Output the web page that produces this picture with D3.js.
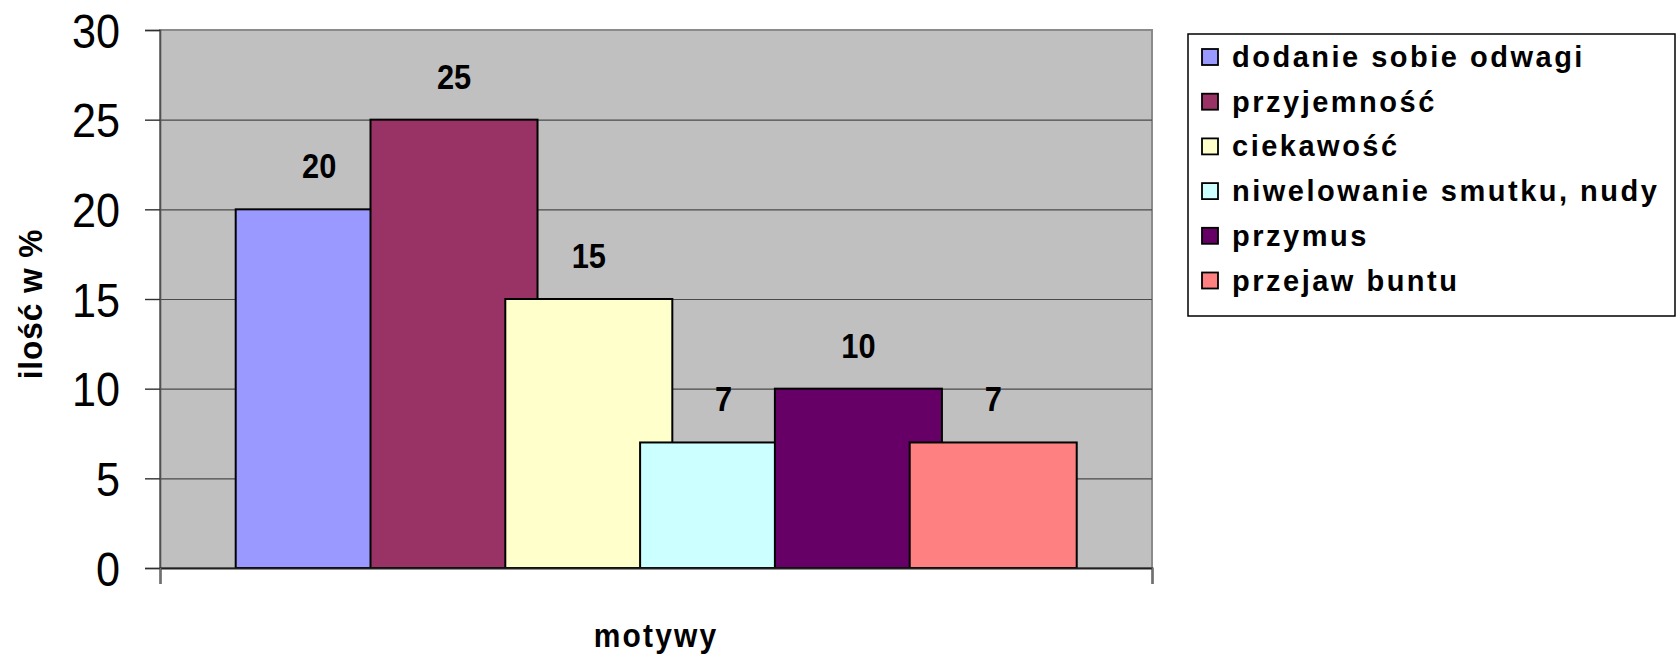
<!DOCTYPE html>
<html>
<head>
<meta charset="utf-8">
<script src="https://cdn.jsdelivr.net/npm/d3@7"></script>
<style>
  html, body { margin: 0; padding: 0; background: #fff; }
  svg { display: block; }
  text { font-family: "Liberation Sans", Arial, sans-serif; fill: #000; }
</style>
</head>
<body>
<div id="chart"></div>
<script>
// ---- data ----
const categories = ["dodanie sobie odwagi", "przyjemność", "ciekawość", "niwelowanie smutku, nudy", "przymus", "przejaw buntu"];
const values = [20, 25, 15, 7, 10, 7];
const colors = ["#9999FF", "#993366", "#FFFFCC", "#CCFFFF", "#660066", "#FF8080"];
const yTicks = [0, 5, 10, 15, 20, 25, 30];
const yDomain = [0, 30];
const xTitle = "motywy";
const yTitle = "ilość w %";

// ---- layout ----
const W = 1677, H = 658;
const plot = { left: 160, right: 1152, top: 30, bottom: 568 };
const groupStart = 235.7, step = 134.8, widthFactor = 1.239;

const svg = d3.select("#chart").append("svg").attr("width", W).attr("height", H);

const y = d3.scaleLinear().domain(yDomain).range([plot.bottom, plot.top]);
const x = d3.scaleBand().domain(categories)
  .range([groupStart, groupStart + step * categories.length]).padding(0);
const barW = x.bandwidth() * widthFactor;

// plot background
svg.append("rect")
  .attr("x", plot.left).attr("y", plot.top)
  .attr("width", plot.right - plot.left).attr("height", plot.bottom - plot.top)
  .attr("fill", "#C0C0C0").attr("stroke", "#8a8a8a").attr("stroke-width", 2);

// gridlines
const grid = svg.append("g").attr("transform", `translate(${plot.left},0)`)
  .call(d3.axisLeft(y).tickValues(yTicks.filter(t => t > 0 && t < 30))
    .tickSize(-(plot.right - plot.left)).tickFormat(""));
grid.select(".domain").remove();
grid.selectAll("line").attr("stroke", "#4a4a4a").attr("stroke-width", 1.2);

// bars
svg.append("g").selectAll("rect").data(values).join("rect")
  .attr("x", (d, i) => x(categories[i]))
  .attr("y", d => y(d))
  .attr("width", barW)
  .attr("height", d => y(0) - y(d))
  .attr("fill", (d, i) => colors[i])
  .attr("stroke", "#000").attr("stroke-width", 2);

// value labels
const sxVal = 0.88;
svg.append("g").selectAll("text").data(values).join("text")
  .attr("transform", (d, i) => `translate(${x(categories[i]) + barW / 2},${y(d) - 31}) scale(${sxVal},1)`)
  .attr("text-anchor", "middle")
  .attr("font-size", 35).attr("font-weight", "bold")
  .text(d => d);

// y axis
const sxTick = 0.9;
const yAxis = svg.append("g").attr("transform", `translate(${plot.left},0)`)
  .call(d3.axisLeft(y).tickValues(yTicks).tickSize(15).tickPadding(40));
yAxis.select(".domain").attr("stroke", "#505050").attr("stroke-width", 1.6);
yAxis.selectAll(".tick line").attr("stroke", "#303030").attr("stroke-width", 1.4);
yAxis.selectAll(".tick text")
  .attr("font-size", 48).attr("font-family", "'Liberation Sans', Arial, sans-serif")
  .attr("fill", "#000")
  .attr("x", -40 / sxTick).attr("dy", "0.36em")
  .attr("transform", `scale(${sxTick},1)`);

// x axis line with end ticks
const xAxisScale = d3.scaleLinear().domain([0, 1]).range([plot.left, plot.right]);
const xAxis = svg.append("g").attr("transform", `translate(0,${plot.bottom})`)
  .call(d3.axisBottom(xAxisScale).tickValues([0, 1]).tickSize(16).tickFormat(""));
xAxis.select(".domain").attr("stroke", "#202020").attr("stroke-width", 2);
xAxis.selectAll(".tick line").attr("stroke", "#707070").attr("stroke-width", 1.6);

// axis titles
svg.append("text")
  .attr("transform", `translate(656,647) scale(0.88,1)`)
  .attr("text-anchor", "middle")
  .attr("font-size", 34).attr("font-weight", "bold")
  .attr("letter-spacing", 2.5)
  .text(xTitle);

svg.append("text")
  .attr("transform", `translate(42,304) rotate(-90) scale(0.93,1)`)
  .attr("text-anchor", "middle")
  .attr("font-size", 34).attr("font-weight", "bold")
  .attr("letter-spacing", 1)
  .text(yTitle);

// legend
const legend = { x: 1188, y: 34, w: 487, h: 282, rowStep: 44.7, firstBase: 67 };
svg.append("rect")
  .attr("x", legend.x).attr("y", legend.y).attr("width", legend.w).attr("height", legend.h)
  .attr("fill", "#fff").attr("stroke", "#000").attr("stroke-width", 1.5);
const rows = svg.append("g").selectAll("g").data(categories).join("g")
  .attr("transform", (d, i) => `translate(${legend.x},${legend.y + (legend.firstBase - legend.y) + i * legend.rowStep})`);
rows.append("rect")
  .attr("x", 14).attr("y", -18).attr("width", 16).attr("height", 16)
  .attr("fill", (d, i) => colors[i]).attr("stroke", "#000").attr("stroke-width", 1.8);
rows.append("text")
  .attr("x", 44).attr("y", 0)
  .attr("font-size", 29).attr("font-weight", "bold")
  .attr("letter-spacing", 2.5)
  .text(d => d);
</script>
</body>
</html>
